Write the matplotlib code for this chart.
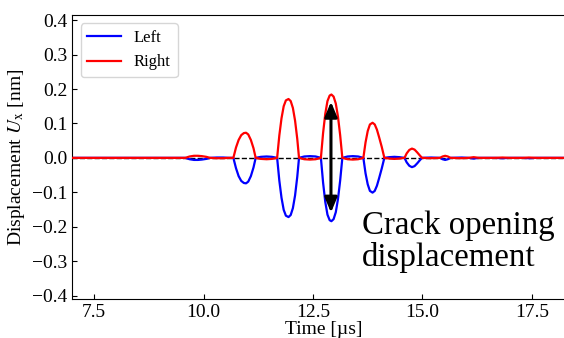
import matplotlib
matplotlib.use("Agg")
import matplotlib.pyplot as plt

# time axis [us] and displacement [nm]
time = [7.00, 9.50, 9.58, 9.68, 9.78, 9.87, 9.96, 10.06, 10.15, 10.30, 10.45, 10.58,
        10.68, 10.74, 10.80, 10.86, 10.92, 10.97, 11.02, 11.08, 11.14, 11.19,
        11.31, 11.44, 11.56,
        11.68, 11.73, 11.78, 11.83, 11.88, 11.94, 11.99, 12.04, 12.09, 12.14, 12.18,
        12.30, 12.43, 12.56,
        12.68, 12.73, 12.78, 12.83, 12.88, 12.92, 12.97, 13.02, 13.07, 13.12, 13.17,
        13.29, 13.41, 13.53,
        13.65, 13.70, 13.75, 13.80, 13.86, 13.91, 13.96, 14.01, 14.07, 14.13,
        14.24, 14.36, 14.48,
        14.59, 14.64, 14.70, 14.76, 14.82, 14.88, 14.94, 14.99,
        15.20, 15.40, 15.46, 15.52, 15.58, 15.64, 15.90, 16.05, 16.17, 16.30,
        16.65, 16.83, 17.00, 17.30, 17.43, 17.60, 18.50]

right = [0.0, 0.0, 0.0, 0.004, 0.006, 0.006, 0.005, 0.003, 0.0, -0.001, -0.001, 0.0,
         0.0, 0.030, 0.052, 0.066, 0.072, 0.073, 0.068, 0.052, 0.028, 0.0,
         -0.003, -0.004, -0.003,
         0.0, 0.065, 0.115, 0.150, 0.167, 0.171, 0.165, 0.145, 0.108, 0.055, 0.0,
         -0.004, -0.005, -0.004,
         0.0, 0.072, 0.128, 0.165, 0.181, 0.184, 0.178, 0.158, 0.120, 0.066, 0.0,
         -0.004, -0.005, -0.004,
         0.0, 0.045, 0.078, 0.097, 0.102, 0.097, 0.082, 0.060, 0.032, 0.0,
         -0.002, -0.003, -0.002,
         0.0, 0.013, 0.023, 0.027, 0.024, 0.016, 0.007, 0.0,
         -0.001, 0.0, 0.004, 0.006, 0.004, 0.0, -0.001, 0.0, 0.002, 0.0,
         0.0, 0.001, 0.0, 0.0, 0.001, 0.0, 0.0]

left = [0.0, 0.0, 0.0, -0.004, -0.006, -0.006, -0.005, -0.003, 0.0, 0.001, 0.001, 0.0,
        0.0, -0.030, -0.053, -0.067, -0.073, -0.074, -0.069, -0.053, -0.028, 0.0,
        0.003, 0.004, 0.003,
        0.0, -0.066, -0.116, -0.151, -0.168, -0.172, -0.166, -0.146, -0.109, -0.055, 0.0,
        0.004, 0.005, 0.004,
        0.0, -0.072, -0.128, -0.165, -0.181, -0.184, -0.178, -0.158, -0.120, -0.066, 0.0,
        0.004, 0.005, 0.004,
        0.0, -0.045, -0.077, -0.096, -0.101, -0.096, -0.081, -0.059, -0.031, 0.0,
        0.002, 0.003, 0.002,
        0.0, -0.013, -0.023, -0.027, -0.024, -0.016, -0.007, 0.0,
        0.001, 0.0, -0.004, -0.006, -0.004, 0.0, 0.001, 0.0, -0.002, 0.0,
        0.0, -0.001, 0.0, 0.0, -0.001, 0.0, 0.0]

arrow_t = 12.91
arrow_top = 0.163
arrow_bottom = -0.159

plt.rcParams['font.family'] = ['Liberation Serif', 'DejaVu Serif']
plt.rcParams['mathtext.fontset'] = 'stix'

fig = plt.figure(figsize=(5.64, 3.38), dpi=100)
ax = fig.add_axes([0.1282, 0.1154, 0.8924, 0.8402])

ax.axhline(0, color='k', ls='--', lw=1, zorder=1)
ax.plot(time, left, color='blue', lw=1.6, label='Left', zorder=2)
ax.plot(time, right, color='red', lw=1.6, label='Right', zorder=3)

ax.annotate('', xy=(arrow_t, arrow_top), xytext=(arrow_t, arrow_bottom),
            arrowprops=dict(arrowstyle='<|-|>,head_length=0.6,head_width=0.25',
                            color='k', lw=2.2, mutation_scale=15,
                            shrinkA=0, shrinkB=0), zorder=4)
ax.text(13.61, -0.152, 'Crack opening\ndisplacement', fontsize=23.7,
        va='top', ha='left', linespacing=1.05)

ax.set_xlim(7.0, 18.5)
ax.set_ylim(-0.41, 0.415)
ax.set_xticks([7.5, 10.0, 12.5, 15.0, 17.5])
ax.set_yticks([-0.4, -0.3, -0.2, -0.1, 0.0, 0.1, 0.2, 0.3, 0.4])
ax.tick_params(direction='in', labelsize=14)
ax.set_xlabel('Time [µs]', fontsize=14, labelpad=0)
ax.set_ylabel('Displacement $U_\\mathrm{x}$ [nm]', fontsize=14)
ax.legend(loc='upper left', fontsize=12)

fig.savefig('out.png', dpi=100)
